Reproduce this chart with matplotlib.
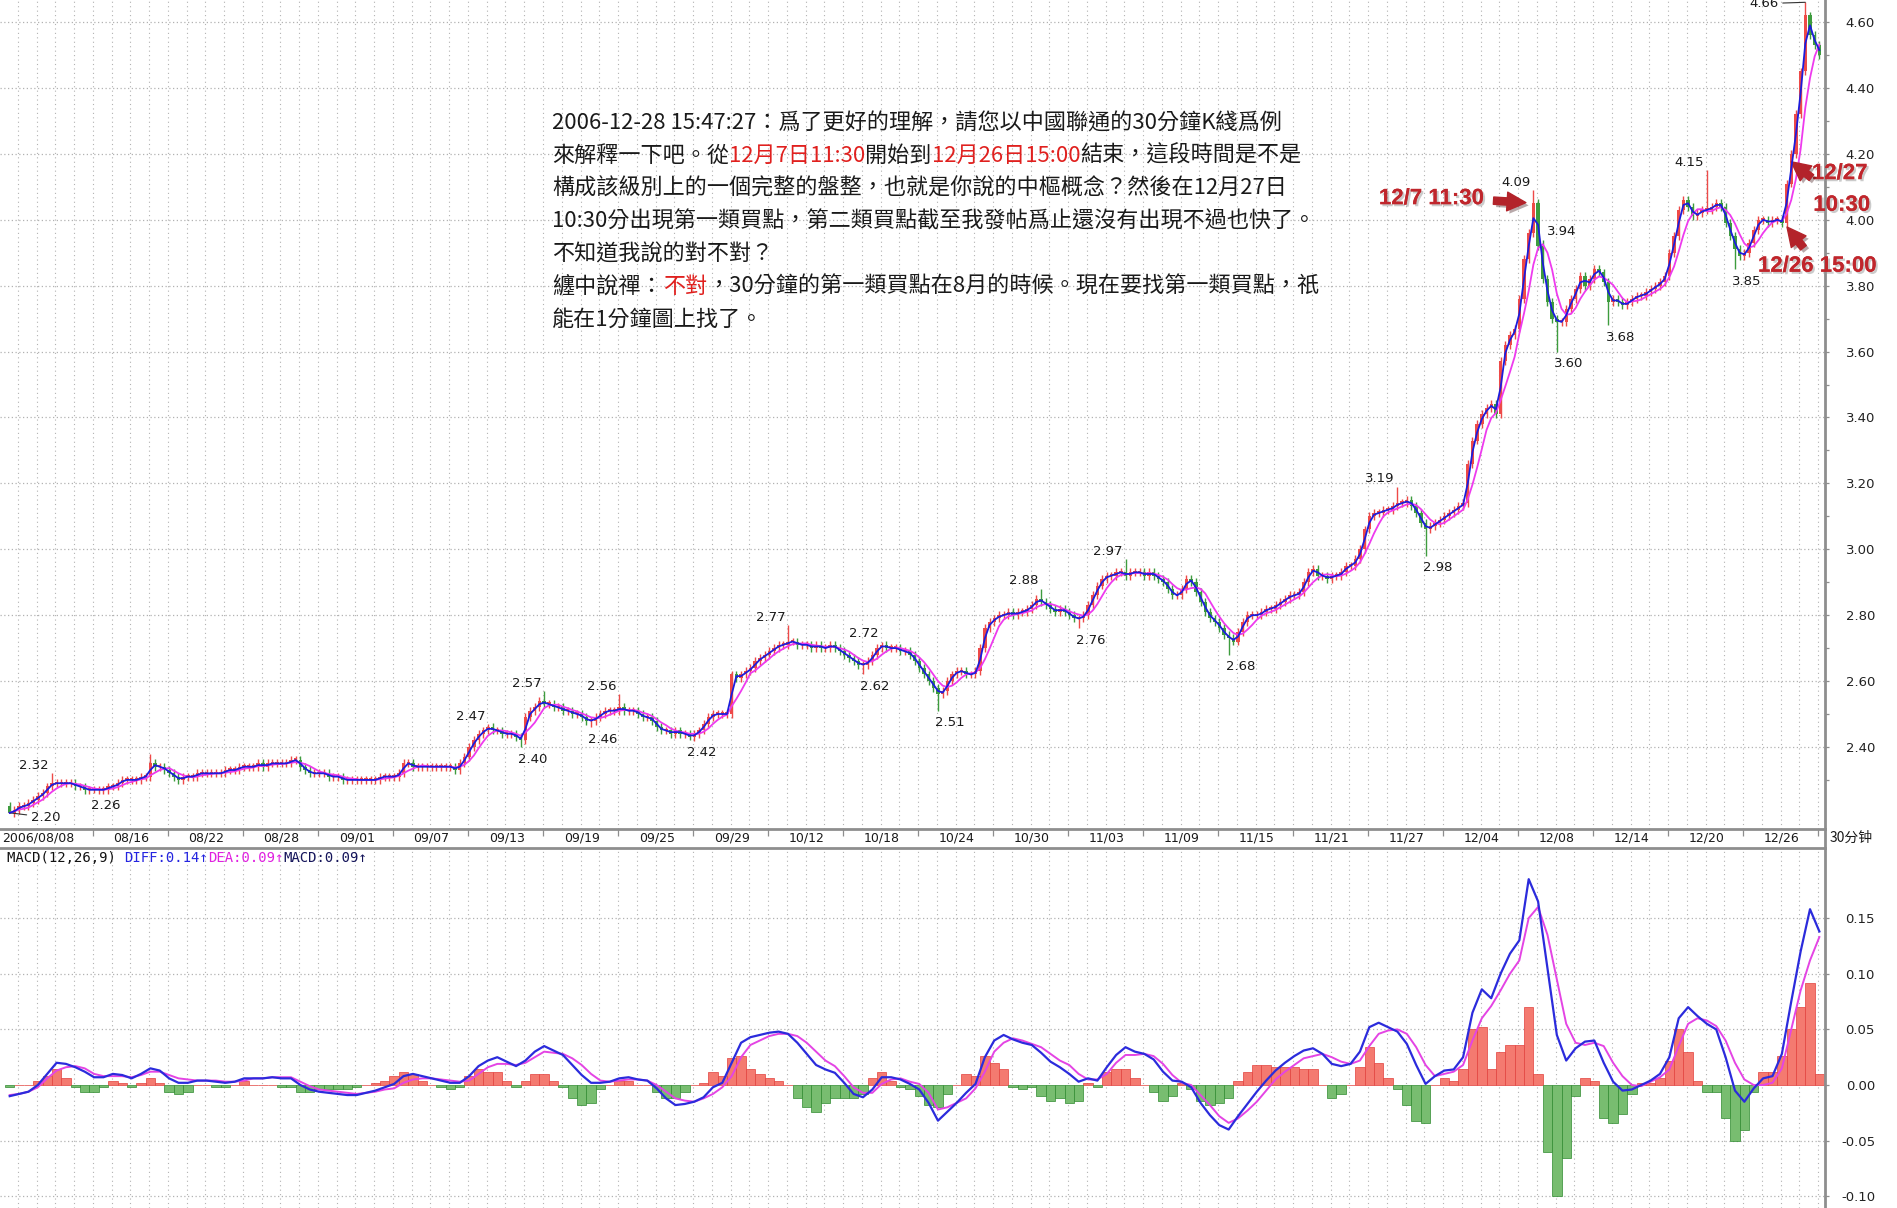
import numpy as np
import pandas as pd
import matplotlib
matplotlib.use("Agg")
import matplotlib.pyplot as plt
import matplotlib.patheffects as pe
from matplotlib.lines import Line2D
from matplotlib.transforms import blended_transform_factory

# closing prices (one value every ~1 hour of trading)
close = [
    2.20, 2.21, 2.22, 2.22, 2.23, 2.24, 2.25, 2.26, 2.28, 2.29, 2.29, 2.29, 2.29, 2.29, 2.28, 2.28,
    2.27, 2.27, 2.27, 2.27, 2.27, 2.28, 2.28, 2.29, 2.30, 2.30, 2.30, 2.30, 2.31, 2.31, 2.35, 2.34,
    2.34, 2.33, 2.32, 2.31, 2.30, 2.31, 2.31, 2.31, 2.32, 2.32, 2.32, 2.32, 2.32, 2.32, 2.33, 2.33,
    2.33, 2.34, 2.34, 2.34, 2.34, 2.35, 2.34, 2.35, 2.35, 2.35, 2.35, 2.35, 2.36, 2.36, 2.34, 2.33,
    2.32, 2.32, 2.32, 2.32, 2.31, 2.31, 2.31, 2.30, 2.30, 2.30, 2.30, 2.30, 2.30, 2.30, 2.30, 2.31,
    2.31, 2.31, 2.31, 2.32, 2.35, 2.35, 2.34, 2.34, 2.34, 2.34, 2.34, 2.34, 2.34, 2.34, 2.34, 2.33,
    2.35, 2.37, 2.40, 2.42, 2.44, 2.45, 2.46, 2.45, 2.45, 2.44, 2.44, 2.44, 2.43, 2.42, 2.49, 2.51,
    2.52, 2.54, 2.53, 2.53, 2.52, 2.52, 2.51, 2.51, 2.50, 2.50, 2.49, 2.48, 2.48, 2.49, 2.50, 2.51,
    2.51, 2.51, 2.52, 2.51, 2.51, 2.51, 2.50, 2.49, 2.49, 2.48, 2.46, 2.45, 2.45, 2.44, 2.45, 2.44,
    2.44, 2.43, 2.44, 2.45, 2.47, 2.49, 2.50, 2.50, 2.50, 2.50, 2.62, 2.61, 2.62, 2.63, 2.64, 2.66,
    2.67, 2.68, 2.69, 2.70, 2.71, 2.71, 2.72, 2.72, 2.71, 2.71, 2.71, 2.70, 2.71, 2.70, 2.70, 2.71,
    2.70, 2.69, 2.68, 2.67, 2.66, 2.65, 2.65, 2.66, 2.68, 2.70, 2.71, 2.70, 2.70, 2.70, 2.69, 2.69,
    2.68, 2.66, 2.64, 2.62, 2.60, 2.58, 2.56, 2.57, 2.60, 2.62, 2.63, 2.63, 2.62, 2.62, 2.63, 2.70,
    2.76, 2.78, 2.79, 2.80, 2.80, 2.81, 2.80, 2.81, 2.81, 2.82, 2.83, 2.85, 2.84, 2.83, 2.82, 2.81,
    2.82, 2.81, 2.80, 2.79, 2.79, 2.80, 2.83, 2.86, 2.89, 2.91, 2.92, 2.92, 2.93, 2.93, 2.92, 2.93,
    2.93, 2.93, 2.92, 2.93, 2.92, 2.91, 2.90, 2.88, 2.86, 2.86, 2.88, 2.91, 2.90, 2.87, 2.84, 2.81,
    2.79, 2.78, 2.76, 2.74, 2.73, 2.72, 2.75, 2.78, 2.80, 2.80, 2.80, 2.81, 2.82, 2.82, 2.83, 2.84,
    2.85, 2.86, 2.86, 2.87, 2.90, 2.93, 2.94, 2.92, 2.92, 2.91, 2.92, 2.92, 2.93, 2.95, 2.95, 2.97,
    3.00, 3.06, 3.10, 3.11, 3.11, 3.12, 3.12, 3.13, 3.14, 3.14, 3.15, 3.13, 3.11, 3.08, 3.06, 3.07,
    3.08, 3.09, 3.10, 3.11, 3.12, 3.13, 3.14, 3.26, 3.33, 3.38, 3.41, 3.43, 3.44, 3.41, 3.57, 3.62,
    3.65, 3.67, 3.76, 3.88, 3.96, 4.05, 3.92, 3.82, 3.75, 3.70, 3.69, 3.69, 3.73, 3.76, 3.79, 3.83,
    3.80, 3.82, 3.85, 3.84, 3.81, 3.75, 3.76, 3.75, 3.74, 3.75, 3.76, 3.77, 3.77, 3.78, 3.79, 3.80,
    3.81, 3.83, 3.90, 3.95, 4.03, 4.06, 4.04, 4.01, 4.02, 4.03, 4.03, 4.04, 4.05, 4.04, 3.99, 3.95,
    3.91, 3.89, 3.90, 3.93, 3.97, 4.00, 4.00, 3.99, 4.00, 4.00, 3.99, 4.11, 4.20, 4.32, 4.45, 4.62,
    4.56, 4.53, 4.50,
]
first_open = 2.22

# labelled highs / lows (bar index -> price)
high_marks = {9: 2.32, 102: 2.47, 114: 2.57, 130: 2.56, 166: 2.77, 186: 2.72, 220: 2.88,
              238: 2.97, 296: 3.19, 325: 4.09, 327: 3.94, 362: 4.15, 383: 4.66}
low_marks = {0: 2.20, 18: 2.26, 109: 2.40, 124: 2.46, 145: 2.42, 182: 2.62, 198: 2.51,
             228: 2.76, 260: 2.68, 302: 2.98, 330: 3.60, 341: 3.68, 368: 3.85}
extra_highs = {30: 2.38}
label_left = {327}

# MACD(12,26,9) lines, read every second bar
diff = [
    -0.010, -0.008, -0.006, 0.000, 0.010, 0.020, 0.019, 0.016,
    0.012, 0.007, 0.007, 0.010, 0.009, 0.006, 0.010, 0.015,
    0.013, 0.006, 0.002, 0.002, 0.004, 0.004, 0.003, 0.002,
    0.003, 0.006, 0.006, 0.006, 0.007, 0.006, 0.006, 0.000,
    -0.004, -0.006, -0.007, -0.008, -0.009, -0.009, -0.007, -0.005,
    -0.002, 0.001, 0.008, 0.010, 0.008, 0.006, 0.004, 0.002,
    0.002, 0.008, 0.017, 0.022, 0.025, 0.021, 0.017, 0.022,
    0.030, 0.035, 0.031, 0.027, 0.018, 0.009, 0.002, 0.002,
    0.003, 0.006, 0.007, 0.005, 0.004, -0.003, -0.012, -0.018,
    -0.017, -0.015, -0.011, -0.002, 0.002, 0.020, 0.038, 0.043,
    0.045, 0.047, 0.048, 0.046, 0.038, 0.028, 0.018, 0.014,
    0.011, 0.002, -0.008, -0.011, -0.004, 0.007, 0.007, 0.005,
    0.001, -0.004, -0.016, -0.032, -0.024, -0.016, -0.007, 0.001,
    0.025, 0.040, 0.045, 0.041, 0.038, 0.036, 0.029, 0.021,
    0.016, 0.010, 0.003, 0.006, 0.004, 0.016, 0.027, 0.034,
    0.030, 0.028, 0.023, 0.012, 0.004, 0.003, -0.002, -0.016,
    -0.027, -0.036, -0.040, -0.028, -0.017, -0.006, 0.004, 0.013,
    0.020, 0.026, 0.031, 0.033, 0.028, 0.019, 0.017, 0.019,
    0.030, 0.052, 0.056, 0.052, 0.048, 0.037, 0.018, 0.001,
    0.008, 0.013, 0.014, 0.025, 0.065, 0.086, 0.078, 0.100,
    0.118, 0.130, 0.185, 0.165, 0.105, 0.045, 0.022, 0.033,
    0.039, 0.040, 0.020, 0.003, -0.005, -0.004, 0.000, 0.004,
    0.010, 0.025, 0.060, 0.070, 0.062, 0.055, 0.050, 0.025,
    -0.005, -0.015, -0.003, 0.006, 0.008, 0.028, 0.075, 0.120,
    0.158, 0.138,
]
dea = [
    -0.009, -0.008, -0.006, -0.002, 0.006, 0.013, 0.016, 0.017,
    0.015, 0.010, 0.008, 0.008, 0.008, 0.007, 0.009, 0.012,
    0.012, 0.009, 0.006, 0.005, 0.004, 0.004, 0.004, 0.003,
    0.003, 0.004, 0.006, 0.006, 0.007, 0.007, 0.007, 0.003,
    -0.001, -0.004, -0.005, -0.006, -0.007, -0.008, -0.007, -0.006,
    -0.004, -0.003, 0.002, 0.005, 0.006, 0.006, 0.005, 0.004,
    0.003, 0.004, 0.010, 0.016, 0.019, 0.019, 0.018, 0.020,
    0.025, 0.030, 0.029, 0.028, 0.024, 0.018, 0.010, 0.004,
    0.003, 0.004, 0.005, 0.005, 0.004, 0.000, -0.006, -0.012,
    -0.014, -0.015, -0.012, -0.008, -0.002, 0.008, 0.025, 0.036,
    0.040, 0.044, 0.046, 0.046, 0.044, 0.038, 0.030, 0.022,
    0.017, 0.008, -0.002, -0.007, -0.007, 0.001, 0.005, 0.006,
    0.003, 0.001, -0.007, -0.022, -0.020, -0.016, -0.012, -0.003,
    0.012, 0.030, 0.038, 0.042, 0.040, 0.037, 0.034, 0.028,
    0.022, 0.018, 0.010, 0.005, 0.005, 0.010, 0.020, 0.027,
    0.027, 0.028, 0.026, 0.019, 0.009, 0.002, 0.000, -0.009,
    -0.018, -0.028, -0.034, -0.030, -0.023, -0.015, -0.005, 0.005,
    0.012, 0.018, 0.024, 0.026, 0.028, 0.025, 0.021, 0.019,
    0.022, 0.035, 0.046, 0.049, 0.050, 0.046, 0.034, 0.018,
    0.008, 0.010, 0.012, 0.018, 0.040, 0.060, 0.071, 0.085,
    0.100, 0.112, 0.150, 0.160, 0.135, 0.095, 0.055, 0.038,
    0.036, 0.038, 0.035, 0.020, 0.008, 0.000, -0.001, 0.003,
    0.007, 0.014, 0.035, 0.055, 0.060, 0.058, 0.053, 0.040,
    0.020, 0.005, 0.000, 0.000, 0.002, 0.015, 0.050, 0.085,
    0.112, 0.133,
]

date_labels = ["2006/08/08", "08/16", "08/22", "08/28", "09/01", "09/07", "09/13", "09/19",
               "09/25", "09/29", "10/12", "10/18", "10/24", "10/30", "11/03", "11/09", "11/15",
               "11/21", "11/27", "12/04", "12/08", "12/14", "12/20", "12/26"]
price_ticks = [2.40, 2.60, 2.80, 3.00, 3.20, 3.40, 3.60, 3.80, 4.00, 4.20, 4.40, 4.60]
macd_ticks = [-0.10, -0.05, 0.00, 0.05, 0.10, 0.15]

text_lines = [
    [("2006-12-28 15:47:27：爲了更好的理解，請您以中國聯通的30分鐘K綫爲例", "k")],
    [("來解釋一下吧。從", "k"), ("12月7日11:30", "r"), ("開始到", "k"), ("12月26日15:00", "r"),
     ("結束，這段時間是不是", "k")],
    [("構成該級別上的一個完整的盤整，也就是你說的中樞概念？然後在12月27日", "k")],
    [("10:30分出現第一類買點，第二類買點截至我發帖爲止還沒有出現不過也快了。", "k")],
    [("不知道我說的對不對？", "k")],
    [("纏中說禪：", "k"), ("不對", "r"), ("，30分鐘的第一類買點在8月的時候。現在要找第一類買點，祇", "k")],
    [("能在1分鐘圖上找了。", "k")],
]

W, H = 1897, 1208
RED = "#ee4a48"
GREEN = "#3e9c3e"
GRID = "#b2b2b2"
AXC = "#8e8e8e"
CJK = ["Noto Sans CJK TC", "DejaVu Sans"]
TXT_COL = {"k": "#1a1a1a", "r": "#e0201e"}

fig = plt.figure(figsize=(W / 100, H / 100), dpi=100)
axp = fig.add_axes([0, 1 - 829 / H, 1825 / W, 829 / H])
axm = fig.add_axes([0, 0, 1825 / W, 360 / H])

n = len(close)
x = np.arange(n)
c = np.array(close)
o = np.r_[first_open, c[:-1]]
hi = np.maximum(o, c) + 0.012
lo = np.minimum(o, c) - 0.012
for b, v in {**extra_highs, **high_marks}.items():
    hi[b] = v
for b, v in low_marks.items():
    lo[b] = v
cols = np.where(c >= o, RED, GREEN)

# grid
for a in (axp, axm):
    for g in np.arange(1.75, n, 4):
        a.axvline(g, color=GRID, lw=0.8, ls=(0, (1, 3)), zorder=0)
for v in price_ticks:
    axp.axhline(v, color=GRID, lw=0.9, ls=(0, (1, 2)), zorder=0)
for v in macd_ticks:
    if v != 0:
        axm.axhline(v, color=GRID, lw=0.9, ls=(0, (1, 2)), zorder=0)

# candles + moving averages
axp.vlines(x, lo, hi, colors=cols, lw=1.0, zorder=2)
axp.bar(x, np.maximum(np.abs(c - o), 0.005), bottom=np.minimum(o, c), width=0.72,
        color=cols, lw=0, zorder=2)
s = pd.Series(close)
axp.plot(x, s.rolling(5, min_periods=1).mean(), color="#ee3aee", lw=1.3, zorder=3)
axp.plot(x, s.rolling(2, min_periods=1).mean(), color="#1c1cdc", lw=1.3, zorder=4)

# high / low labels
for b, v in high_marks.items():
    if b == n - 4:
        continue
    left = b in label_left
    axp.annotate(f"{v:.2f}", (b, v), xytext=(3 if left else -2, 1), textcoords="offset points",
                 ha="left" if left else "right", va="bottom", fontsize=9.5, color="#1a1a1a")
for b, v in low_marks.items():
    if b == 0:
        continue
    axp.annotate(f"{v:.2f}", (b, v), xytext=(-2, -4), textcoords="offset points",
                 ha="left", va="top", fontsize=9.5, color="#1a1a1a")
lead = dict(arrowstyle="-", lw=0.8, color="#333333", shrinkA=1, shrinkB=0)
axp.annotate(f"{low_marks[0]:.2f}", (0, low_marks[0]), xytext=(4.5, 2.187), ha="left",
             va="center", fontsize=9.5, color="#1a1a1a", arrowprops=lead)
axp.annotate(f"{high_marks[383]:.2f}", (383, high_marks[383]), xytext=(377.3, 4.656),
             ha="right", va="center", fontsize=9.5, color="#1a1a1a", arrowprops=lead)

# MACD panel
xm = np.arange(0, n, 2)
d1 = np.array(diff)
d2 = np.array(dea)
hist = 2 * (d1 - d2)
pos = hist >= 0
axm.bar(xm[pos], hist[pos], width=2.0, color="#f47a70", edgecolor="#e2403c", lw=0.5, zorder=2)
axm.bar(xm[~pos], hist[~pos], width=2.0, color="#78bd70", edgecolor="#2f8a2f", lw=0.5, zorder=2)
axm.plot(xm, d2, color="#e444e4", lw=1.4, zorder=3)
axm.plot(xm, d1, color="#2b2bdc", lw=1.6, zorder=4)

# axes styling
for a in (axp, axm):
    a.set_xlim(-2.07, 387.2)
    a.yaxis.tick_right()
    a.tick_params(axis="y", which="both", direction="out", color=AXC, labelcolor="#222222",
                  labelsize=9.5, length=3, pad=33, width=0.9)
    a.spines["left"].set_visible(False)
    a.spines["right"].set_color(AXC)
    a.spines["right"].set_linewidth(2)
axp.set_ylim(2.151, 4.667)
axp.set_yticks(price_ticks)
axp.set_yticklabels([f"{v:.2f}" for v in price_ticks])
axp.set_yticks(np.arange(2.3, 4.65, 0.1), minor=True)
axm.set_ylim(-0.1105, 0.213)
axm.set_yticks(macd_ticks)
axm.set_yticklabels([f"{v:.2f}" for v in macd_ticks])
for a in (axp, axm):
    for t in a.get_yticklabels():
        t.set_horizontalalignment("right")
axp.spines["top"].set_visible(False)
axp.spines["bottom"].set_color(AXC)
axp.spines["bottom"].set_linewidth(2)
axm.spines["bottom"].set_visible(False)
axm.spines["top"].set_color(AXC)
axm.spines["top"].set_linewidth(2)
axp.set_xticks(np.arange(17.75, n, 16))
axp.set_xticklabels([])
axp.tick_params(axis="x", direction="out", length=5, color=AXC, width=0.9)
axm.set_xticks([])
fig.add_artist(Line2D([1825 / W] * 2, [1 - 848 / H, 1 - 829 / H], color=AXC, lw=2))

# date row
tr = blended_transform_factory(axp.transData, axp.transAxes)
axp.text(-1.7, -0.011, date_labels[0], transform=tr, ha="left", va="center", fontsize=9,
         color="#1a1a1a")
for k, lab in enumerate(date_labels[1:]):
    axp.text(26 + 16 * k, -0.011, lab, transform=tr, ha="center", va="center", fontsize=9,
             color="#1a1a1a")
fig.text(1830 / W, 1 - 838 / H, "30分钟", family=["Noto Sans CJK SC", "DejaVu Sans"],
         fontsize=10, ha="left", va="center", color="#1a1a1a")


def chain(ax, x0, y0, parts, **kw):
    t = ax.text(x0, y0, parts[0][0], color=parts[0][1], transform=ax.transAxes,
                va="bottom", ha="left", **kw)
    for s_, col in parts[1:]:
        t = ax.annotate(s_, xy=(1, 0), xycoords=t, color=col, va="bottom", ha="left", **kw)


# MACD header
chain(axm, 0.004, 0.952, [("MACD(12,26,9) ", "#111111"), ("DIFF:0.14↑", "#2424e0"),
                          ("DEA:0.09↑", "#e020e0"), ("MACD:0.09↑", "#14145a")],
      family="DejaVu Sans Mono", fontsize=10)

# quoted dialogue
for i, line in enumerate(text_lines):
    chain(axp, 552 / 1825, 0.838 - i * 0.03945, [(s_, TXT_COL[k]) for s_, k in line],
          family=CJK, fontsize=15.9)

# red callouts
shadow = [pe.withSimplePatchShadow(offset=(1.5, -1.5), shadow_rgbFace="#999999", alpha=0.5),
          pe.Normal()]
red_kw = dict(family="Liberation Sans", fontweight="bold", fontsize=16, color="#c0262c",
              path_effects=shadow, clip_on=False)
axp.text(314.5, 4.064, "12/7 11:30", ha="right", va="center", **red_kw)
axp.text(384.4, 4.140, "12/27", ha="left", va="center", **red_kw)
axp.text(384.7, 4.044, "10:30", ha="left", va="center", **red_kw)
axp.text(372.9, 3.859, "12/26 15:00", ha="left", va="center", **red_kw)
arr = dict(arrowstyle="simple,head_length=0.9,head_width=0.9,tail_width=0.35",
           color="#b3232a", mutation_scale=15, shrinkA=0, shrinkB=0,
           path_effects=[pe.withSimplePatchShadow(offset=(2, -2), alpha=0.35)])
axp.annotate("", xy=(323.4, 4.052), xytext=(316.5, 4.058), arrowprops=arr, annotation_clip=False)
axp.annotate("", xy=(380.0, 4.176), xytext=(384.3, 4.128), arrowprops=arr, annotation_clip=False)
axp.annotate("", xy=(379.1, 3.978), xytext=(382.6, 3.915), arrowprops=arr, annotation_clip=False)

fig.savefig("out.png", dpi=100)
